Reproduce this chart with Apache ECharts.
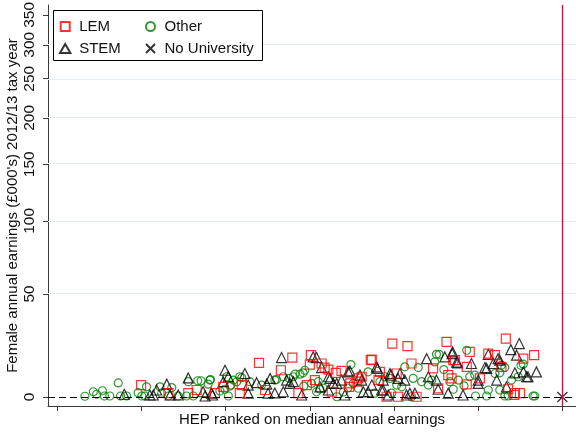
<!DOCTYPE html>
<html>
<head>
<meta charset="utf-8">
<script src="https://cdn.jsdelivr.net/npm/echarts@6/dist/echarts.min.js"></script>
<style>
html,body{margin:0;padding:0;background:#fff;}
#chart{width:576px;height:434px;}
</style>
</head>
<body>
<div id="chart"></div>
<script>
// ---- data (earnings in £000's, x = HEP rank position) ----
var lemX = [24.9,33.0,38.9,41.4,49.3,46.8,59.9,69.8,75.3,75.0,66.4,54.8,54.2,61.7,74.1,71.6,78.5,80.5,82.7,84.4,93.4,99.5,95.8,89.4,81.5,97.8,87.0,104.0,115.6,118.1,121.6,105.2,111.6,100.8,116.1,121.6,106.7,101.2,133.2,141.6,138.4,130.0,131.9,125.5,133.9,135.9,137.4,76.5,79.4,86.7,88.9,90.4,93.1,95.4,113.1,117.6,122.5,128.0,135.7,117.1];
var lemY = [4.8,1.5,1.5,2.8,4.1,1.5,14.4,16.8,17.9,13.6,11.1,4.8,1.5,2.8,4.8,1.5,14.1,11.4,10.0,10.8,15.9,23.4,10.4,7.6,2.1,0.1,5.5,22.2,24.2,15.6,12.6,14.1,11.9,9.7,9.0,5.1,0.1,0.1,25.8,17.9,16.3,17.9,12.6,7.6,3.1,1.5,1.5,6.9,12.3,4.1,6.2,8.3,15.6,6.9,3.5,15.6,19.4,18.6,0.8,7.6];

var stemX = [19.9,28.5,29.5,32.5,33.5,35.9,38.9,43.3,43.9,49.8,49.3,45.8,66.6,55.7,59.2,56.7,62.2,56.7,62.6,68.1,69.1,67.1,72.6,64.6,77.0,86.4,80.5,94.8,98.8,96.8,90.4,84.4,83.0,78.0,80.5,85.4,90.9,92.3,93.4,96.8,109.7,115.1,117.3,118.9,123.0,101.8,101.2,103.2,110.2,112.6,104.7,106.2,113.1,116.1,120.5,137.2,134.7,136.4,128.0,130.9,129.5,127.5,135.9,138.4,142.3,139.4,130.5,125.0,125.0,133.4,76.0,78.5,81.0,82.0,86.9,89.9,95.1,96.3,98.3,99.1,103.7,117.4,118.6,127.0,131.4,139.8,50.8,63.2,70.1,46.1,27.5];
var stemY = [1.1,0.8,2.8,5.2,0.8,0.8,7.8,2.1,0.4,11.1,6.2,1.5,16.8,9.7,5.8,4.8,5.2,1.5,1.5,6.9,5.5,2.1,0.8,1.6,16.8,10.4,8.3,12.6,9.7,6.9,6.9,6.9,5.5,4.1,2.8,0.8,2.1,2.1,4.8,2.8,16.3,17.1,18.6,14.4,14.1,9.7,7.6,6.9,8.3,6.9,1.5,1.5,3.1,1.5,0.8,23.4,20.5,17.9,18.3,16.3,14.1,11.9,10.0,10.4,10.4,8.3,6.9,6.9,5.5,4.1,17.1,12.3,7.6,5.5,10.8,9.0,11.9,2.8,0.8,9.0,0.8,19.4,14.7,12.3,15.6,8.3,8.3,7.6,6.2,0.8,0.8];

var otherX = [8.2,10.7,11.7,13.4,14.0,15.6,18.1,18.8,20.6,24.0,26.5,25.1,26.0,30.5,31.0,33.0,34.0,35.9,38.9,41.7,42.7,45.3,44.8,50.3,49.8,48.3,51.6,50.8,54.2,53.3,57.2,60.7,64.6,70.1,72.1,73.0,75.5,87.2,92.3,97.3,77.5,78.0,83.0,86.3,89.4,94.3,99.3,121.6,112.6,112.1,103.2,107.2,105.7,111.2,108.2,116.6,119.1,122.5,100.8,105.2,117.6,138.4,132.9,130.0,131.4,136.9,134.9,128.0,131.4,127.5,132.9,133.9,141.3,73.5,77.0,79.0,87.9,95.8,98.8,102.3,110.2,113.4,114.8,120.8,124.2,131.9,137.7,141.8,124.0,45.5,51.3,52.3,54.8,65.1,67.1,68.9,70.6,73.2,38.4,40.4,85.0];
var otherY = [0.3,2.1,1.1,2.5,0.4,0.4,5.7,0.4,0.4,1.7,4.1,0.4,0.4,4.1,1.5,0.4,3.8,0.4,6.2,6.6,6.6,6.9,5.2,8.3,3.1,2.4,4.8,0.4,8.3,6.2,6.2,4.8,6.9,8.3,9.4,10.0,5.5,13.6,10.4,8.3,6.2,3.2,0.1,3.6,3.5,1.5,1.5,20.2,18.3,14.8,12.6,12.3,7.6,6.9,6.2,6.2,6.9,8.3,4.8,0.1,3.1,13.8,12.3,9.7,10.0,8.3,6.9,2.8,2.8,0.4,0.4,0.4,0.4,11.1,2.1,3.5,5.5,6.2,7.6,4.1,4.8,18.3,11.4,4.5,0.4,13.3,13.3,0.4,9.0,7.1,4.4,6.9,7.9,7.1,8.3,7.6,9.4,4.4,0.4,0.4,2.0];

var noUniX = [150];
var noUniY = [0];

var yTicks = [0,50,100,150,200,250,300,350];
var yGrid = [50,100,150,200,250,300];
var xTicks = [0,25,50,75,100,125,150];
var cutoffX = 150;

// ---- transformed earnings scale: ln(1 + y/100) ----
function T(v){ return Math.log(1 + v/100); }
function Tinv(t){ return 100*(Math.exp(t)-1); }
function pts(xs, ys){ return xs.map(function(x,i){ return [x, T(ys[i])]; }); }

var FONT = '"Liberation Sans", Arial, Helvetica, sans-serif';
var AXC = '#3a3a3a';
var SQ = 'path://M0,0H10V10H0Z';
var TRI = 'path://M5,0L10,8.66L0,8.66Z';
var CROSS = 'path://M0,0L10,10M10,0L0,10';
var chart = echarts.init(document.getElementById('chart'), null, {renderer:'canvas'});

var hollow = function(c){ return {color:'rgba(0,0,0,0)', borderColor:c, borderWidth:1.2}; };
var legText = {fontSize:15, color:'#111', fontFamily:FONT, lineHeight:17};

chart.setOption({
  animation:false,
  backgroundColor:'#fff',
  textStyle:{fontFamily:FONT},
  grid:{left:48, right:0, top:5, bottom:28, containLabel:false, outerBoundsMode:'none'},
  xAxis:{
    type:'value', min:-2.76, max:154.05,
    name:'HEP ranked on median annual earnings',
    nameLocation:'middle', nameGap:6, nameMoveOverlap:false,
    nameTextStyle:{fontSize:15, color:'#111', fontFamily:FONT, verticalAlign:'top'},
    axisLine:{show:true, onZero:false, lineStyle:{color:AXC, width:1}},
    axisTick:{show:true, length:5, customValues:xTicks, lineStyle:{color:AXC}},
    axisLabel:{show:false},
    splitLine:{show:false}
  },
  yAxis:{
    type:'value', min:-0.0354, max:1.543,
    name:"Female annual earnings (£000's) 2012/13 tax year",
    nameLocation:'middle', nameGap:27.5, nameRotate:90, nameMoveOverlap:false,
    nameTextStyle:{fontSize:15, color:'#111', fontFamily:FONT},
    axisLine:{show:true, onZero:false, lineStyle:{color:AXC, width:1}},
    axisTick:{show:true, length:5, customValues:yTicks.map(T), lineStyle:{color:AXC}},
    axisLabel:{show:true, rotate:90, margin:10, fontSize:15.5, color:'#111', fontFamily:FONT,
      customValues:yTicks.map(T),
      formatter:function(v){ return String(Math.round(Tinv(v))); }},
    splitLine:{show:false}
  },
  legend:[
    {left:54, top:13, orient:'vertical', itemWidth:18, itemHeight:9, itemGap:5, z:101,
     symbolKeepAspect:true, textStyle:legText,
     data:[{name:'LEM', icon:SQ},{name:'STEM', icon:TRI}]},
    {left:140, top:13, orient:'vertical', itemWidth:18, itemHeight:9, itemGap:5, z:101,
     symbolKeepAspect:true, textStyle:legText,
     data:[{name:'Other', icon:'circle'},{name:'No University', icon:CROSS}]}
  ],
  graphic:[{type:'rect', z:100, shape:{x:53.5, y:10.5, width:209, height:50},
    style:{fill:'#fff', stroke:'#000', lineWidth:1}}],
  series:[
    {type:'scatter', name:'_grid', data:[], silent:true, z:1,
     markLine:{silent:true, symbol:'none', animation:false, label:{show:false},
       lineStyle:{color:'#e6edf2', width:1, type:'solid'},
       data:yGrid.map(function(g){ return {yAxis:T(g)}; })}},
    {type:'scatter', name:'Other', symbol:'circle', symbolSize:8, z:3,
     itemStyle:hollow('#008000'), data:pts(otherX, otherY)},
    {type:'scatter', name:'STEM', symbol:'triangle', symbolSize:10, z:3,
     itemStyle:hollow('#000'), data:pts(stemX, stemY)},
    {type:'scatter', name:'LEM', symbol:'rect', symbolSize:9, z:3,
     itemStyle:hollow('#ff0000'), data:pts(lemX, lemY)},
    {type:'scatter', name:'No University', symbol:CROSS, symbolSize:10, z:3,
     itemStyle:{color:'rgba(0,0,0,0)', borderColor:'#000', borderWidth:1.3}, data:pts(noUniX, noUniY),
     markLine:{silent:true, symbol:'none', animation:false, label:{show:false},
       data:[
         {yAxis:T(0), lineStyle:{color:'#000', width:1.2, type:[7,4]}},
         {xAxis:cutoffX, lineStyle:{color:'#c8103c', width:1.3, type:'solid'}}
       ]}}
  ]
});
</script>
</body>
</html>
